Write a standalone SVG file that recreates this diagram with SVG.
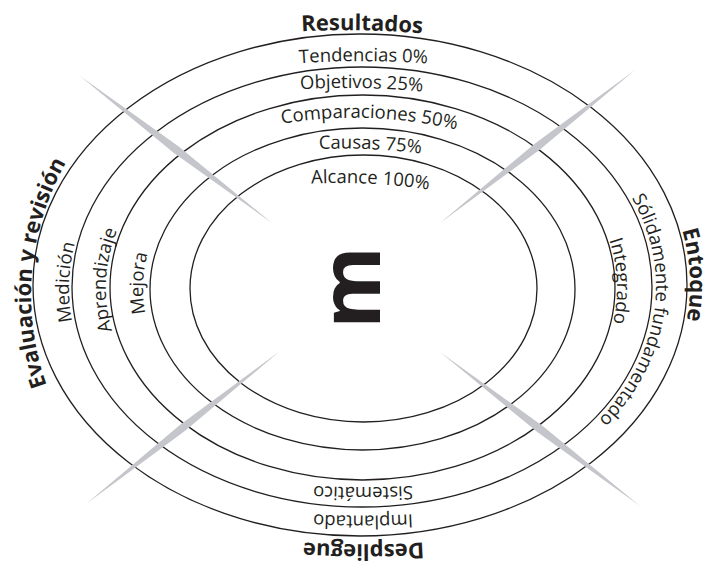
<svg xmlns="http://www.w3.org/2000/svg" width="709" height="561" viewBox="0 0 709 561">
<style>
.ring{fill:none;stroke:#231f20;stroke-width:1.3}
.bar{fill:#c5c6cb}
.lbl{font-family:"Open Sans","Liberation Sans",sans-serif;font-size:18.5px;fill:#231f20}
.ttl{font-family:"Open Sans","Liberation Sans",sans-serif;font-size:22px;font-weight:700;fill:#231f20}
.big{font-family:"Open Sans","Liberation Sans",sans-serif;font-size:84px;font-weight:700;fill:#231f20}
</style>
<defs>
<path id="pRes" d="M290,32 A900,900 0 0 1 434,34.5"/>
<path id="pTen" d="M295,63.5 A900,900 0 0 1 432,64"/>
<path id="pObj" d="M292,89.8 A800,800 0 0 1 431,92.5"/>
<path id="pCom" d="M274,125 A450,450 0 0 1 464,131.5"/>
<path id="pCau" d="M313,149.3 A600,600 0 0 1 427,154.5"/>
<path id="pAlc" d="M304,184 A600,600 0 0 1 436,190.8"/>
<path id="pSis" d="M420,485.5 A1000,1000 0 0 1 306,485.5"/>
<path id="pImp" d="M418,514 A1000,1000 0 0 1 308,514"/>
<path id="pDes" d="M432,542 A1000,1000 0 0 1 295,542"/>
<path id="pEva" d="M79.6,448.9 A268,268 0 0 1 109.6,105.7"/>
<path id="pMed" d="M133.3,427.4 A293,223 0 0 1 142,140.7"/>
<path id="pApr" d="M160.1,408.6 A256,196 0 0 1 171.9,156.7"/>
<path id="pMej" d="M190.9,392.2 A219,167 0 0 1 197.7,177.6"/>
<path id="pEnt" d="M605.2,115 A330,254 0 0 1 620,441.4"/>
<path id="pSol" d="M590.5,146 A294,224 0 0 1 547,461.1"/>
<path id="pInt" d="M552.4,157.5 A254.5,196 0 0 1 562.4,409.3"/>
</defs>
<g id="rings">
<ellipse class="ring" cx="360" cy="285" rx="327" ry="251"/>
<ellipse class="ring" cx="362" cy="287" rx="290" ry="220"/>
<ellipse class="ring" cx="362.5" cy="287.5" rx="252.5" ry="192.5"/>
<ellipse class="ring" cx="362.5" cy="289" rx="212.5" ry="161"/>
<ellipse class="ring" cx="363.5" cy="288.5" rx="173.5" ry="133.5"/>
</g>
<g id="connectors">
<polygon class="bar" points="80,76 173.6,152.7 272,223 178.4,146.3"/>
<polygon class="bar" points="635,70 540,149.6 440,223 535,143.4"/>
<polygon class="bar" points="280,351 185.5,430.6 86,504 180.5,424.4"/>
<polygon class="bar" points="440,352 537.6,432.2 640,506 542.4,425.8"/>
</g>
<g id="resultados">
<text class="ttl" text-anchor="middle"><textPath href="#pRes" startOffset="50%">Resultados</textPath></text>
<text class="lbl" text-anchor="middle"><textPath href="#pTen" startOffset="50%">Tendencias 0%</textPath></text>
<text class="lbl" text-anchor="middle"><textPath href="#pObj" startOffset="50%">Objetivos 25%</textPath></text>
<text class="lbl" text-anchor="middle"><textPath href="#pCom" startOffset="50%">Comparaciones 50%</textPath></text>
<text class="lbl" text-anchor="middle"><textPath href="#pCau" startOffset="50%">Causas 75%</textPath></text>
<text class="lbl" text-anchor="middle"><textPath href="#pAlc" startOffset="50%">Alcance 100%</textPath></text>
</g>
<g id="evaluacion">
<text class="ttl" text-anchor="middle"><textPath href="#pEva" startOffset="50%">Evaluación y revisión</textPath></text>
<text class="lbl" text-anchor="middle"><textPath href="#pMed" startOffset="50%">Medición</textPath></text>
<text class="lbl" text-anchor="middle"><textPath href="#pApr" startOffset="50%">Aprendizaje</textPath></text>
<text class="lbl" text-anchor="middle"><textPath href="#pMej" startOffset="50%">Mejora</textPath></text>
</g>
<g id="enfoque">
<text class="ttl" text-anchor="middle"><textPath href="#pEnt" startOffset="50%">Entoque</textPath></text>
<text class="lbl" text-anchor="middle"><textPath href="#pSol" startOffset="50%">Sólidamente fundamentado</textPath></text>
<text class="lbl" text-anchor="middle"><textPath href="#pInt" startOffset="50%">Integrado</textPath></text>
</g>
<g id="despliegue">
<text class="lbl" text-anchor="middle"><textPath href="#pSis" startOffset="50%">Sistemático</textPath></text>
<text class="lbl" text-anchor="middle"><textPath href="#pImp" startOffset="50%">Implantado</textPath></text>
<text class="ttl" text-anchor="middle"><textPath href="#pDes" startOffset="50%">Despliegue</textPath></text>
</g>
<g id="centro">
<text class="big" text-anchor="middle" transform="translate(380,287.5) rotate(-90)">m</text>
</g>
</svg>
